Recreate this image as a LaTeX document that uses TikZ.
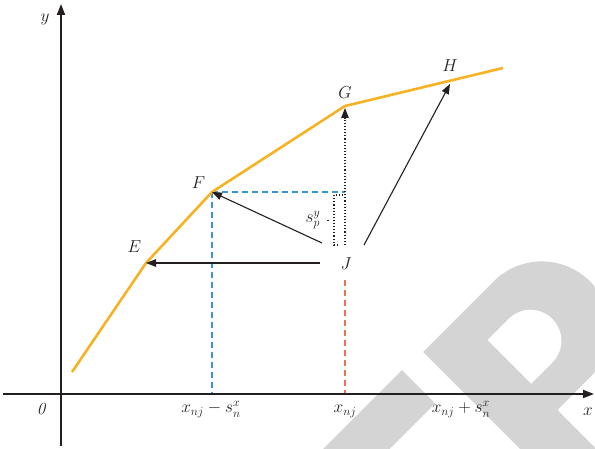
\documentclass[tikz,border=0pt]{standalone}
\usetikzlibrary{arrows.meta}
\definecolor{curve}{RGB}{246,178,35}
\definecolor{bluedash}{RGB}{58,150,210}
\definecolor{reddash}{RGB}{238,112,92}
\definecolor{ink}{RGB}{35,31,32}
\definecolor{wm}{RGB}{212,212,212}
\begin{document}
\begin{tikzpicture}[x=1pt,y=-1pt,
  lbl/.style={font=\fontsize{17}{20}\selectfont, inner sep=0pt, text=ink},
  axisline/.style={draw=ink, line width=1.8pt, -{Triangle[length=11pt,width=8pt]}},
  arr/.style={draw=ink, line width=1.1pt, -{Triangle[length=10pt,width=7.5pt]}},
  dotarr/.style={draw=ink, line width=1.1pt, dotted, -{Triangle[length=10pt,width=7.5pt]}},
  dotline/.style={draw=ink, line width=1.1pt, dotted},
  bluedashed/.style={draw=bluedash, line width=1.3pt, dash pattern=on 6pt off 4pt},
  reddashed/.style={draw=reddash, line width=1.3pt, dash pattern=on 6pt off 4pt},
  curveline/.style={draw=curve, line width=2.6pt, line join=miter}]
\useasboundingbox (0,0) rectangle (595,449);
% watermark
\begin{scope}
  \clip (0,0) rectangle (595,449);
  \begin{scope}[shift={(423,352)}, x={(0.7071pt,0.7071pt)}, y={(0.7071pt,-0.7071pt)}]
    \fill[wm, even odd rule] (0,0) -- (100,0)
      -- plot[domain=-90:90,samples=40] ({100+68*cos(\x)},{68+68*sin(\x)})
      -- (54,136) -- (54,420) -- (0,420) -- cycle
      (54,37) -- (84,37)
      -- plot[domain=-90:90,samples=30] ({84+31*cos(\x)},{68+31*sin(\x)})
      -- (54,99) -- cycle;
    \fill[wm] (-27.6,-2) -- (-27.6,45) -- (-420,45) -- (-420,-2) -- cycle;
  \end{scope}
\end{scope}
% coordinates
\coordinate (yb) at (61,446);
\coordinate (yt) at (61,4);
\coordinate (xl) at (3,394);
\coordinate (xr) at (594,394);
\coordinate (S) at (72,372);
\coordinate (E) at (146,263);
\coordinate (F) at (212,192);
\coordinate (G) at (345,106);
\coordinate (T) at (503,68);
\coordinate (H) at (450,84);
\coordinate (Gtip) at (345,108);
\coordinate (Fbase) at (212,394);
\coordinate (Fright) at (345,192);
\coordinate (Jbase) at (345,394);
\coordinate (Jlow) at (345,280);
\coordinate (jE) at (320,263);
\coordinate (jF) at (322,243);
\coordinate (jH) at (364,245);
\coordinate (jG) at (345,245);
\coordinate (bT) at (334,195);
\coordinate (bTr) at (345,195);
\coordinate (bB) at (334,245);
\coordinate (bBr) at (338,245);
\coordinate (tk1) at (326.5,220);
\coordinate (tk2) at (329,220);
% dashed guides
\draw[bluedashed] (F) -- (Fright);
\draw[bluedashed] (F) -- (Fbase);
\draw[reddashed] (Jlow) -- (Jbase);
% axes
\draw[axisline] (xl) -- (xr);
\draw[axisline] (yb) -- (yt);
% curve
\draw[curveline] (S) -- (E) -- (F) -- (G) -- (T);
% arrows
\draw[arr] (jE) -- (E);
\draw[arr] (jF) -- (F);
\draw[arr] (jH) -- (H);
\draw[dotarr] (jG) -- (Gtip);
\draw[dotline] (bBr) -- (bB) -- (bT) -- (bTr);
\draw[ink, line width=0.8pt] (tk1) -- (tk2);
% labels
\node[lbl, anchor=base] (ylab) at (45,22) {$y$};
\node[lbl, anchor=base] (olab) at (41,414) {\itshape 0};
\node[lbl, anchor=base] (xlab) at (588,415) {$x$};
\node[lbl, anchor=base] (Elab) at (134.5,253) {$E$};
\node[lbl, anchor=base] (Flab) at (198.5,189) {$F$};
\node[lbl, anchor=base] (Glab) at (345,99) {$G$};
\node[lbl, anchor=base] (Hlab) at (450,72) {$H$};
\node[lbl] (Jlab) at (346,264) {$J$};
\node[lbl] (splab) at (313,220) {$s^y_p$};
\node[lbl, anchor=base] (b1) at (211,413) {$x_{nj} - s^x_n$};
\node[lbl, anchor=base] (b2) at (345,413) {$x_{nj}$};
\node[lbl, anchor=base] (b3) at (461,413) {$x_{nj} + s^x_n$};
\end{tikzpicture}
\end{document}
